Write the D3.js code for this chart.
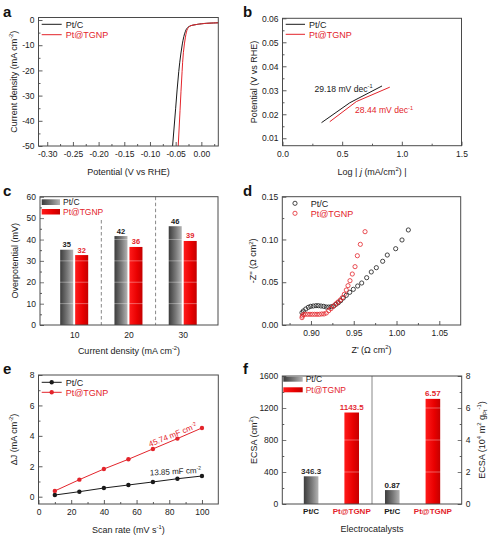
<!DOCTYPE html>
<html><head><meta charset="utf-8">
<script src="https://cdn.jsdelivr.net/npm/d3@7"></script>
<style>
body{margin:0;background:#fff}
text{font-family:"Liberation Sans",Arial,sans-serif}
</style>
</head><body>
<script>
// ---------------- DATA ----------------
// (a) LSV polarization curves
const lsvPotentialPtC = [-0.056,-0.050,-0.044,-0.040,-0.037,-0.034,-0.031,-0.028,-0.024,-0.018,-0.010,0.000,0.015,0.033];
const lsvCurrentPtC   = [-50,-35,-20.5,-13.5,-9.5,-6.5,-4.5,-3.3,-2.6,-2.1,-1.8,-1.5,-1.25,-1.1];
const lsvPotentialTGNP = [-0.045,-0.0415,-0.0375,-0.035,-0.033,-0.031,-0.029,-0.027,-0.024,-0.018,-0.010,0.000,0.015,0.033];
const lsvCurrentTGNP   = [-50,-36,-20.5,-13,-9.5,-6.8,-4.8,-3.6,-2.7,-2.1,-1.8,-1.5,-1.25,-1.1];
const lsvXTicks = [-0.30,-0.25,-0.20,-0.15,-0.10,-0.05,0.00];
const lsvYTicks = [0,-10,-20,-30,-40,-50];

// (b) Tafel plots
const tafelLogJPtC = [0.327,0.564,0.834];
const tafelPotPtC  = [0.0165,0.0248,0.0318];
const tafelLogJTGNP = [0.396,0.619,0.899];
const tafelPotTGNP  = [0.0169,0.0253,0.0313];
const tafelXTicks = [0.0,0.5,1.0,1.5];
const tafelYTicks = [0.01,0.02,0.03,0.04,0.05,0.06];
const tafelSlopePtC = "29.18 mV dec";
const tafelSlopeTGNP = "28.44 mV dec";

// (c) overpotentials
const currentDensities = [10,20,30];
const overpotPtC  = [35.2,41.6,46.2];
const overpotTGNP = [32.7,36.5,39.3];
const overpotPtCLabels  = ["35","42","46"];
const overpotTGNPLabels = ["32","36","39"];
const overpotYTicks = [0,10,20,30,40,50,60];

// (d) Nyquist plots
const nyqRePtC = [0.8895,0.8911,0.8939,0.8969,0.8997,0.9027,0.9059,0.9086,0.9117,0.9149,0.9179,0.9207,0.9238,0.9266,0.9293,0.932,0.9347,0.9378,0.9413,0.9453,0.9495,0.9546,0.9593,0.9651,0.9705,0.9764,0.9838,0.9892,0.999,1.0064,1.0138];
const nyqImPtC = [0.0144,0.0164,0.0187,0.0207,0.0218,0.0222,0.0226,0.0226,0.0222,0.0218,0.021,0.021,0.0214,0.0222,0.0242,0.0261,0.0284,0.0316,0.0347,0.0382,0.0417,0.0456,0.0491,0.0553,0.062,0.067,0.0745,0.0818,0.0892,0.0994,0.1111];
const nyqReTGNP = [0.8895,0.8899,0.8911,0.8934,0.8962,0.8989,0.9016,0.9044,0.9071,0.9098,0.9126,0.9152,0.9179,0.9207,0.9234,0.9261,0.929,0.9316,0.9343,0.9366,0.939,0.9413,0.9433,0.9456,0.9483,0.9515,0.9542,0.9577,0.9632];
const nyqImTGNP = [0.0086,0.0105,0.0121,0.0125,0.0125,0.0125,0.0125,0.0125,0.0125,0.0125,0.0129,0.0129,0.014,0.0167,0.0191,0.0219,0.0246,0.0269,0.0292,0.0319,0.0359,0.0409,0.046,0.0518,0.0596,0.0682,0.081,0.0943,0.1091];
const nyqXTicks = [0.90,0.95,1.00,1.05];
const nyqYTicks = [0.00,0.05,0.10,0.15];

// (e) double-layer capacitance
const scanRates = [10,25,40,55,70,85,100];
const deltaJPtC  = [0.11,0.33,0.57,0.77,0.97,1.18,1.36];
const deltaJTGNP = [0.38,1.12,1.82,2.46,3.14,3.82,4.52];
const cdlPtC = "13.85 mF cm";
const cdlTGNP = "45.74 mF cm";
const scanXTicks = [0,20,40,60,80,100];
const scanYTicks = [0,2,4,6,8];

// (f) ECSA
const catalysts = ["Pt/C","Pt@TGNP"];
const ecsaArea = [346.3,1143.5];
const ecsaMass = [0.87,6.57];
const ecsaAreaLabels = ["346.3","1143.5"];
const ecsaMassLabels = ["0.87","6.57"];
const ecsaLeftTicks = [0,400,800,1200,1600];
const ecsaRightTicks = [0,2,4,6,8];

// ---------------- STYLE ----------------
const RED = "#e3242b", BLACK = "#1a1a1a", FRAME = "#4a4a4a", TXT = "#222";
const TICKFS = 8.5, TITLEFS = 9, LEGFS = 9;

const svg = d3.select("body").append("svg").attr("width",499).attr("height",542);
const defs = svg.append("defs");
function grad(id, stops){
  const g = defs.append("linearGradient").attr("id",id).attr("x1",0).attr("x2",1).attr("y1",0).attr("y2",0);
  stops.forEach(s=>g.append("stop").attr("offset",s[0]).attr("stop-color",s[1]));
}
grad("gGray",[[0,"#3c3c3c"],[0.55,"#7a7a7a"],[1,"#b4b4b4"]]);
grad("gRed",[[0,"#ff1a1a"],[0.6,"#e80000"],[1,"#c40000"]]);

function styleAxis(sel){
  sel.select(".domain").remove();
  sel.selectAll(".tick line").attr("stroke",FRAME).attr("stroke-width",0.9);
  sel.selectAll(".tick text").attr("fill",TXT).attr("font-size",TICKFS).attr("font-family",'"Liberation Sans",Arial,sans-serif');
}
const fmtMinus = f => (v => f(v).replace("\u2212","-"));

function frame(box){
  svg.append("rect").attr("x",box.L).attr("y",box.T).attr("width",box.R-box.L).attr("height",box.B-box.T)
    .attr("fill","none").attr("stroke",FRAME).attr("stroke-width",1);
}
function xAxis(box, xs, ticks, fmt, minor){
  const a = svg.append("g").attr("transform",`translate(0,${box.B})`)
    .call(d3.axisBottom(xs).tickValues(ticks).tickFormat(fmt).tickSizeInner(-4).tickSizeOuter(0).tickPadding(5));
  styleAxis(a);
  if(minor){
    const m = svg.append("g").attr("transform",`translate(0,${box.B})`)
      .call(d3.axisBottom(xs).tickValues(minor).tickFormat("").tickSizeInner(-2).tickSizeOuter(0));
    styleAxis(m);
  }
}
function yAxis(box, ys, ticks, fmt, minor, right){
  const ax = right ? d3.axisRight(ys) : d3.axisLeft(ys);
  const a = svg.append("g").attr("transform",`translate(${right?box.R:box.L},0)`)
    .call(ax.tickValues(ticks).tickFormat(fmt).tickSizeInner(-4).tickSizeOuter(0).tickPadding(4));
  styleAxis(a);
  if(minor){
    const ax2 = right ? d3.axisRight(ys) : d3.axisLeft(ys);
    const m = svg.append("g").attr("transform",`translate(${right?box.R:box.L},0)`)
      .call(ax2.tickValues(minor).tickFormat("").tickSizeInner(-2).tickSizeOuter(0));
    styleAxis(m);
  }
}
// rich text: parts = [[text, 'n'|'sup'|'sub'|'i']]
function rich(x,y,parts,opts={}){
  const t = svg.append("text").attr("x",x).attr("y",y).attr("font-size",opts.fs||TITLEFS)
    .attr("fill",opts.fill||TXT).attr("text-anchor",opts.anchor||"middle");
  if(opts.rotate!=null) t.attr("transform",`rotate(${opts.rotate},${x},${y})`);
  if(opts.bold) t.attr("font-weight","bold");
  let shift = 0;
  parts.forEach(p=>{
    const s = t.append("tspan").text(p[0]);
    const fs = opts.fs||TITLEFS;
    if(p[1]==="sup"){ s.attr("font-size",fs*0.65).attr("dy",-fs*0.4 - shift); shift=-fs*0.4; }
    else if(p[1]==="sub"){ s.attr("font-size",fs*0.65).attr("dy",fs*0.25 - shift); shift=fs*0.25; }
    else { if(shift!==0){ s.attr("dy",-shift); shift=0; } if(p[1]==="i") s.attr("font-style","italic"); }
  });
  return t;
}
function panelLabel(x,y,s){
  svg.append("text").attr("x",x).attr("y",y).text(s).attr("font-size",15).attr("font-weight","bold").attr("fill","#111");
}
function lineLegend(x1,x2,y,color,label,dot){
  svg.append("line").attr("x1",x1).attr("x2",x2).attr("y1",y).attr("y2",y).attr("stroke",color).attr("stroke-width",1);
  if(dot) svg.append("circle").attr("cx",(x1+x2)/2).attr("cy",y).attr("r",2.2).attr("fill",color);
  svg.append("text").attr("x",x2+4).attr("y",y+3.2).text(label).attr("font-size",LEGFS).attr("fill",color);
}
function swatchLegend(x,y,w,h,fill,label,color){
  svg.append("rect").attr("x",x).attr("y",y).attr("width",w).attr("height",h).attr("fill",fill);
  svg.append("text").attr("x",x+w+3).attr("y",y+h/2+3).text(label).attr("font-size",LEGFS-0.5).attr("fill",color);
}

// ---------------- PANEL A ----------------
{
  const box = {L:38.5,R:218.3,T:17.5,B:146};
  const xs = d3.scaleLinear().domain([-0.317,0.033]).range([box.L,box.R]);
  const ys = d3.scaleLinear().domain([-50,1]).range([box.B,box.T]);
  xAxis(box,xs,lsvXTicks,fmtMinus(d3.format(".2f")),d3.range(-0.275,0.03,0.05));
  yAxis(box,ys,lsvYTicks,fmtMinus(d3.format("d")),d3.range(-45,0,10));
  const clip = defs.append("clipPath").attr("id","clipA").append("rect").attr("x",box.L).attr("y",box.T).attr("width",box.R-box.L).attr("height",box.B-box.T);
  const line = d3.line().x(d=>xs(d[0])).y(d=>ys(d[1])).curve(d3.curveMonotoneY);
  svg.append("path").datum(d3.zip(lsvPotentialPtC,lsvCurrentPtC)).attr("d",line).attr("fill","none").attr("stroke",BLACK).attr("stroke-width",1).attr("clip-path","url(#clipA)");
  svg.append("path").datum(d3.zip(lsvPotentialTGNP,lsvCurrentTGNP)).attr("d",line).attr("fill","none").attr("stroke",RED).attr("stroke-width",1).attr("clip-path","url(#clipA)");
  frame(box);
  lineLegend(41.7,61.7,24.3,BLACK,"Pt/C");
  lineLegend(41.7,61.7,34.7,RED,"Pt@TGNP");
  rich((box.L+box.R)/2,175,[["Potential (V vs RHE)","n"]]);
  rich(17,(box.T+box.B)/2,[["Current density (mA cm","n"],["-2","sup"],[")","n"]],{rotate:-90});
  panelLabel(3,17,"a");
}
// ---------------- PANEL B ----------------
{
  const box = {L:282.5,R:461.5,T:18.3,B:145.7};
  const xs = d3.scaleLinear().domain([0,1.5]).range([box.L,box.R]);
  const ys = d3.scaleLinear().domain([0.0069,0.06]).range([box.B,box.T]);
  xAxis(box,xs,tafelXTicks,d3.format(".1f"),[0.25,0.75,1.25]);
  yAxis(box,ys,tafelYTicks,d3.format(".2f"),[0.015,0.025,0.035,0.045,0.055]);
  const line = d3.line().x(d=>xs(d[0])).y(d=>ys(d[1]));
  svg.append("path").datum(d3.zip(tafelLogJPtC,tafelPotPtC)).attr("d",line).attr("fill","none").attr("stroke",BLACK).attr("stroke-width",1);
  svg.append("path").datum(d3.zip(tafelLogJTGNP,tafelPotTGNP)).attr("d",line).attr("fill","none").attr("stroke",RED).attr("stroke-width",1);
  frame(box);
  lineLegend(285.7,305,24.3,BLACK,"Pt/C");
  lineLegend(285.7,305,34.3,RED,"Pt@TGNP");
  rich(314.5,91.5,[[tafelSlopePtC,"n"],["-1","sup"]],{fs:8.6,anchor:"start",fill:BLACK});
  rich(355,113,[[tafelSlopeTGNP,"n"],["-1","sup"]],{fs:8.6,anchor:"start",fill:RED});
  rich((box.L+box.R)/2,175,[["Log | ","n"],["j","i"],[" (mA/cm","n"],["2","sup"],[") |","n"]]);
  rich(256.5,(box.T+box.B)/2,[["Potential (V vs RHE)","n"]],{rotate:-90});
  panelLabel(243,17,"b");
}
// ---------------- PANEL C ----------------
{
  const box = {L:40,R:218,T:196.7,B:325};
  const xs = d3.scaleLinear().domain([3.7,36.5]).range([box.L,box.R]);
  const ys = d3.scaleLinear().domain([0,60]).range([box.B,box.T]);
  yAxis(box,ys,overpotYTicks,d3.format("d"),d3.range(5,60,10));
  const xa = svg.append("g").attr("transform",`translate(0,${box.B})`)
    .call(d3.axisBottom(xs).tickValues(currentDensities).tickFormat(d3.format("d")).tickSize(0).tickPadding(7));
  styleAxis(xa);
  const step = xs(20)-xs(10), off = step*0.138, bw = step*0.24;
  const g = svg.append("g");
  g.selectAll(".bp").data(currentDensities).join("rect")
    .attr("x",(d,i)=>xs(d)-off-bw/2).attr("width",bw)
    .attr("y",(d,i)=>ys(overpotPtC[i])).attr("height",(d,i)=>ys(0)-ys(overpotPtC[i])).attr("fill","url(#gGray)");
  g.selectAll(".br").data(currentDensities).join("rect")
    .attr("x",(d,i)=>xs(d)+off-bw/2).attr("width",bw)
    .attr("y",(d,i)=>ys(overpotTGNP[i])).attr("height",(d,i)=>ys(0)-ys(overpotTGNP[i])).attr("fill","url(#gRed)");
  // faint grid over bars
  overpotYTicks.slice(1,-1).forEach(v=>svg.append("line").attr("x1",box.L).attr("x2",box.R).attr("y1",ys(v)).attr("y2",ys(v)).attr("stroke","#fff").attr("stroke-opacity",0.45).attr("stroke-width",0.8));
  currentDensities.forEach((d,i)=>{
    svg.append("text").attr("x",xs(d)-off).attr("y",ys(overpotPtC[i])-2.5).attr("text-anchor","middle").attr("font-size",7.5).attr("font-weight","bold").attr("fill",BLACK).text(overpotPtCLabels[i]);
    svg.append("text").attr("x",xs(d)+off).attr("y",ys(overpotTGNP[i])-2.5).attr("text-anchor","middle").attr("font-size",7.5).attr("font-weight","bold").attr("fill",RED).text(overpotTGNPLabels[i]);
  });
  // dashed separators
  svg.append("line").attr("x1",xs(15)).attr("x2",xs(15)).attr("y1",220).attr("y2",box.B).attr("stroke","#888").attr("stroke-dasharray","3.5,2.5");
  svg.append("line").attr("x1",xs(25)).attr("x2",xs(25)).attr("y1",box.T).attr("y2",box.B).attr("stroke","#888").attr("stroke-dasharray","3.5,2.5");
  frame(box);
  swatchLegend(41.7,199.3,18.3,5.7,"url(#gGray)","Pt/C",BLACK);
  swatchLegend(41.7,209,18.3,5.5,"url(#gRed)","Pt@TGNP",RED);
  rich((box.L+box.R)/2,354,[["Current density (mA cm","n"],["-2","sup"],[")","n"]]);
  rich(18,(box.T+box.B)/2,[["Overpotential (mV)","n"]],{rotate:-90});
  panelLabel(3,196,"c");
}
// ---------------- PANEL D ----------------
{
  const box = {L:282.3,R:460.7,T:196.7,B:325};
  const xs = d3.scaleLinear().domain([0.8665,1.075]).range([box.L,box.R]);
  const ys = d3.scaleLinear().domain([0,0.15]).range([box.B,box.T]);
  xAxis(box,xs,nyqXTicks,d3.format(".2f"),[0.875,0.925,0.975,1.025]);
  yAxis(box,ys,nyqYTicks,d3.format(".2f"),[0.025,0.075,0.125]);
  svg.append("g").selectAll("circle").data(d3.zip(nyqRePtC,nyqImPtC)).join("circle")
    .attr("cx",d=>xs(d[0])).attr("cy",d=>ys(d[1])).attr("r",2.1).attr("fill","none").attr("stroke",BLACK).attr("stroke-width",0.8);
  svg.append("g").selectAll("circle").data(d3.zip(nyqReTGNP,nyqImTGNP)).join("circle")
    .attr("cx",d=>xs(d[0])).attr("cy",d=>ys(d[1])).attr("r",2.1).attr("fill","none").attr("stroke",RED).attr("stroke-width",0.8);
  frame(box);
  svg.append("circle").attr("cx",295).attr("cy",203.3).attr("r",2.1).attr("fill","none").attr("stroke",BLACK).attr("stroke-width",0.8);
  svg.append("text").attr("x",310.7).attr("y",206.5).text("Pt/C").attr("font-size",LEGFS).attr("fill",BLACK);
  svg.append("circle").attr("cx",295).attr("cy",213.3).attr("r",2.1).attr("fill","none").attr("stroke",RED).attr("stroke-width",0.8);
  svg.append("text").attr("x",310.7).attr("y",216.5).text("Pt@TGNP").attr("font-size",LEGFS).attr("fill",RED);
  rich((box.L+box.R)/2,353,[["Z' (\u03A9 cm","n"],["2","sup"],[")","n"]]);
  rich(256.5,(box.T+box.B)/2,[["-Z'' (\u03A9 cm","n"],["2","sup"],[")","n"]],{rotate:-90});
  panelLabel(243,196,"d");
}
// ---------------- PANEL E ----------------
{
  const box = {L:38.5,R:218.3,T:375,B:504};
  const xs = d3.scaleLinear().domain([0,110]).range([box.L,box.R]);
  const ys = d3.scaleLinear().domain([-0.48,8]).range([box.B,box.T]);
  xAxis(box,xs,scanXTicks,d3.format("d"),d3.range(10,110,20));
  yAxis(box,ys,scanYTicks,d3.format("d"),[1,3,5,7]);
  const line = d3.line().x(d=>xs(d[0])).y(d=>ys(d[1]));
  [[deltaJPtC,BLACK],[deltaJTGNP,RED]].forEach(([arr,c])=>{
    const dat = d3.zip(scanRates,arr);
    svg.append("path").datum(dat).attr("d",line).attr("fill","none").attr("stroke",c).attr("stroke-width",1);
    svg.append("g").selectAll("circle").data(dat).join("circle").attr("cx",d=>xs(d[0])).attr("cy",d=>ys(d[1])).attr("r",2.2).attr("fill",c);
  });
  frame(box);
  lineLegend(41.7,61.7,382.3,BLACK,"Pt/C",true);
  lineLegend(41.7,61.7,392.3,RED,"Pt@TGNP",true);
  rich(150,447,[[cdlTGNP,"n"],["-2","sup"]],{fs:8,anchor:"start",fill:RED,rotate:-22});
  rich(150,475.5,[[cdlPtC,"n"],["-2","sup"]],{fs:8,anchor:"start",fill:BLACK,rotate:-3});
  rich((box.L+box.R)/2,533,[["Scan rate (mV s","n"],["-1","sup"],[")","n"]]);
  rich(17,(box.T+box.B)/2,[["\u0394J (mA cm","n"],["-2","sup"],[")","n"]],{rotate:-90});
  panelLabel(3,374,"e");
}
// ---------------- PANEL F ----------------
{
  const box = {L:282.3,R:461.7,T:376,B:504};
  const slots = ["areaPtC","areaTGNP","massPtC","massTGNP"];
  const xs = d3.scalePoint().domain(slots).range([box.L,box.R]).padding(0.71);
  const yl = d3.scaleLinear().domain([0,1600]).range([box.B,box.T]);
  const yr = d3.scaleLinear().domain([0,8]).range([box.B,box.T]);
  yAxis(box,yl,ecsaLeftTicks,d3.format("d"),[200,600,1000,1400]);
  yAxis(box,yr,ecsaRightTicks,d3.format("d"),[1,3,5,7],true);
  const bw = xs.step()*0.36;
  const bars = [
    [slots[0],yl,ecsaArea[0],"url(#gGray)",ecsaAreaLabels[0],BLACK],
    [slots[1],yl,ecsaArea[1],"url(#gRed)",ecsaAreaLabels[1],RED],
    [slots[2],yr,ecsaMass[0],"url(#gGray)",ecsaMassLabels[0],BLACK],
    [slots[3],yr,ecsaMass[1],"url(#gRed)",ecsaMassLabels[1],RED]];
  bars.forEach(([s,y,v,f,lab,c])=>{
    svg.append("rect").attr("x",xs(s)-bw/2).attr("width",bw).attr("y",y(v)).attr("height",y(0)-y(v)).attr("fill",f);
    svg.append("text").attr("x",xs(s)).attr("y",y(v)-2.5).attr("text-anchor","middle").attr("font-size",8).attr("font-weight","bold").attr("fill",c).text(lab);
  });
  [400,800,1200].forEach(v=>svg.append("line").attr("x1",box.L).attr("x2",box.R).attr("y1",yl(v)).attr("y2",yl(v)).attr("stroke","#fff").attr("stroke-opacity",0.45).attr("stroke-width",0.8));
  const mid = (box.L+box.R)/2;
  svg.append("line").attr("x1",mid).attr("x2",mid).attr("y1",box.T).attr("y2",box.B).attr("stroke","#888").attr("stroke-width",1);
  frame(box);
  bars.forEach(([s,y,v,f,lab,c],i)=>{
    svg.append("text").attr("x",xs(s)).attr("y",514).attr("text-anchor","middle").attr("font-size",8).attr("font-weight","bold").attr("fill",c).text(catalysts[i%2]);
  });
  swatchLegend(283.3,376.7,19.4,5,"url(#gGray)","Pt/C",BLACK);
  swatchLegend(283.3,387.3,19.4,5,"url(#gRed)","Pt@TGNP",RED);
  rich((box.L+box.R)/2,532,[["Electrocatalysts","n"]]);
  rich(256.5,(box.T+box.B)/2,[["ECSA (cm","n"],["2","sup"],[")","n"]],{rotate:-90});
  rich(485,(box.T+box.B)/2,[["ECSA (10","n"],["4","sup"],[" m","n"],["2","sup"],[" g","n"],["Pt","sub"],["-1","sup"],[")","n"]],{rotate:-90});
  panelLabel(243,374,"f");
}
</script>
</body></html>
